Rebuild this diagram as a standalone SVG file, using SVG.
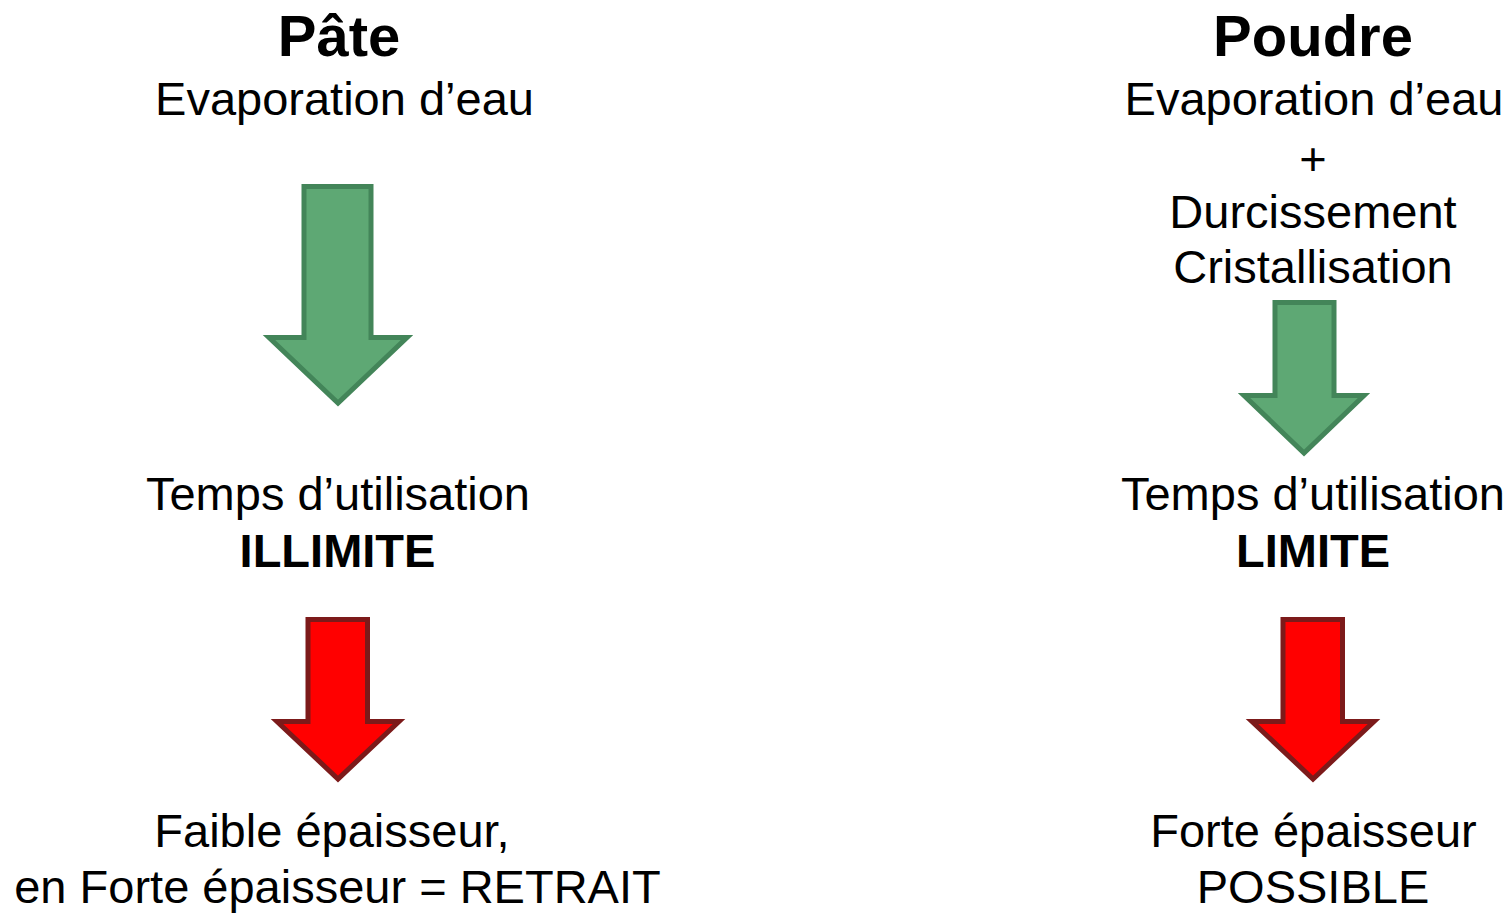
<svg xmlns="http://www.w3.org/2000/svg" width="1510" height="913" viewBox="0 0 1510 913">
<style>
text{font-family:"Liberation Sans",Arial,sans-serif;fill:#000;text-anchor:middle}
.t{font-size:58px;font-weight:bold}
.r{font-size:47px}
.b{font-size:47px;font-weight:bold}
.g{fill:#5ea874;stroke:#438559;stroke-width:5;stroke-linejoin:miter}
.red{fill:#ff0000;stroke:#7c1a1a;stroke-width:5;stroke-linejoin:miter}
</style>
<rect width="1510" height="913" fill="#ffffff"/>
<g id="pate-title"><text class="t" x="339" y="56">Pâte</text><text class="r" x="344.5" y="115">Evaporation d’eau</text></g>
<g id="poudre-title"><text class="t" x="1313" y="56">Poudre</text><text class="r" x="1314" y="115">Evaporation d’eau</text><text class="r" x="1313" y="175">+</text><text class="r" x="1313" y="228">Durcissement</text><text class="r" x="1313" y="283">Cristallisation</text></g>
<g id="pate-temps"><text class="r" x="338" y="510">Temps d’utilisation</text><text class="b" x="337.5" y="567">ILLIMITE</text></g>
<g id="poudre-temps"><text class="r" x="1313" y="510">Temps d’utilisation</text><text class="b" x="1313" y="567">LIMITE</text></g>
<g id="pate-result"><text class="r" x="332" y="847">Faible épaisseur,</text><text class="r" x="337.5" y="903">en Forte épaisseur = RETRAIT</text></g>
<g id="poudre-result"><text class="r" x="1313.5" y="847">Forte épaisseur</text><text class="r" x="1313" y="903">POSSIBLE</text></g>
<g id="connectors">
<polygon class="g" points="304,186.5 371,186.5 371,337.5 407,337.5 338,403 269,337.5 304,337.5"/>
<polygon class="g" points="1275,302.5 1334,302.5 1334,395.5 1364,395.5 1304,453 1244,395.5 1275,395.5"/>
<polygon class="red" points="308,619.5 367.5,619.5 367.5,721.5 399,721.5 338,779 277,721.5 308,721.5"/>
<polygon class="red" points="1283,619.5 1342.5,619.5 1342.5,721.5 1374,721.5 1313,779 1252,721.5 1283,721.5"/>
</g>
</svg>
